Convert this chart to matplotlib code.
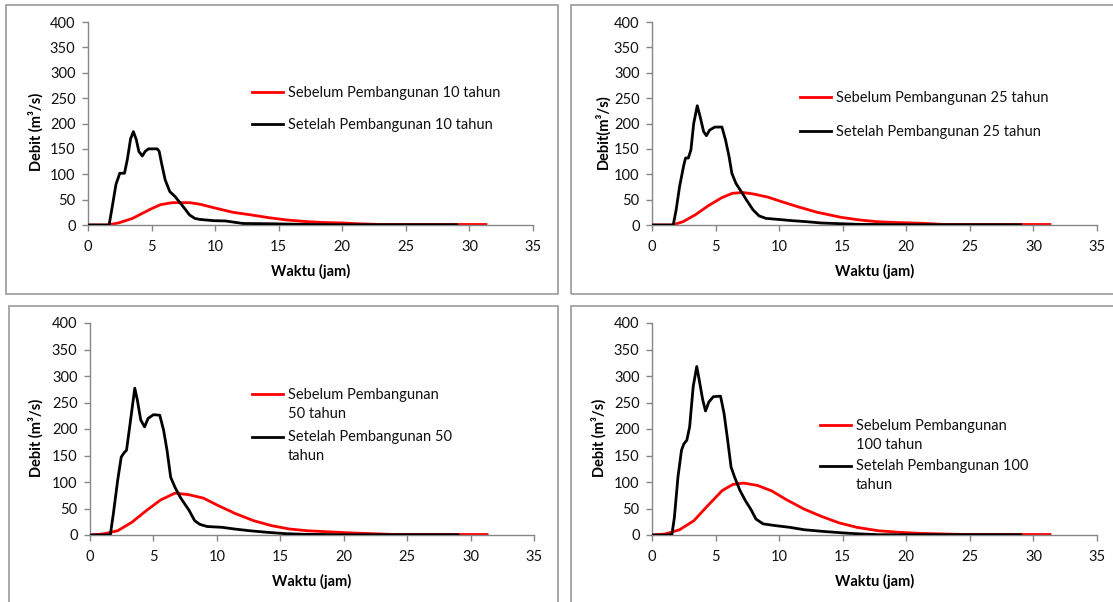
import numpy as np
import matplotlib
matplotlib.use("Agg")
import matplotlib.pyplot as plt
from matplotlib.patches import Rectangle
from matplotlib.legend_handler import HandlerLine2D

plt.rcParams['font.family'] = ['Lato', 'DejaVu Sans']

# ---------------- data ----------------
# 10 tahun
t_sebelum_10 = [0, 1.5, 2.4, 3.5, 4.9, 5.7, 6.6, 8.0, 8.8, 9.9, 11.4, 12.8, 14.2, 15.6, 17.0, 18.4, 20.0, 21.2, 23.0, 31.3]
q_sebelum_10 = [0, 0, 4, 13, 31, 40, 44, 44, 41, 34, 25, 20, 14.5, 10, 7, 5, 4, 2.5, 1, 1]
t_setelah_10 = [0, 1.66, 1.9, 2.2, 2.5, 2.87, 3.1, 3.35, 3.57, 3.8, 4.0, 4.27, 4.5, 4.75, 5.1, 5.45, 5.6, 5.8, 6.07, 6.43, 6.85, 7.4, 7.98, 8.4, 8.8, 9.9, 10.8, 12.2, 14.2, 17.5, 20, 29]
q_setelah_10 = [0, 0, 35, 80, 102, 102, 130, 170, 184, 168, 145, 136, 145, 150, 150, 150, 145, 120, 89, 66, 56, 39, 20, 13, 11, 8.5, 8, 3, 2.5, 1, 0.5, 0.5]

# 25 tahun
t_sebelum_25 = [0, 1.6, 2.44, 3.4, 4.4, 5.5, 6.33, 7.17, 8.0, 9.1, 10.2, 11.6, 13.0, 14.9, 16.3, 17.7, 19.1, 21.3, 23.0, 31.3]
q_sebelum_25 = [0, 0, 6.5, 20, 37.5, 54, 62.5, 64, 61, 55, 46, 35, 25, 15, 10, 6.5, 5, 3.3, 1, 1]
t_setelah_25 = [0, 1.67, 1.9, 2.17, 2.5, 2.64, 2.86, 3.06, 3.28, 3.56, 3.78, 4.06, 4.28, 4.53, 4.94, 5.5, 5.78, 6.06, 6.28, 6.6, 6.94, 7.44, 7.94, 8.42, 8.97, 9.94, 11.05, 12.17, 13.3, 14.9, 16.3, 20, 29]
q_setelah_25 = [0, 0, 30, 76, 118, 132, 132, 148, 200, 235, 214, 184, 176, 187, 193, 193, 168, 135, 102, 82, 69, 49, 30, 18, 13, 11, 8.5, 6.5, 4, 2.5, 1.3, 0.5, 0.5]

# 50 tahun
t_sebelum_50 = [0, 1.05, 2.18, 3.3, 4.44, 5.56, 6.7, 7.8, 8.95, 10.1, 11.5, 12.9, 14.3, 15.7, 17.15, 18.8, 20.5, 22.2, 24.0, 31.3]
q_sebelum_50 = [0, 2, 8, 24, 46, 66, 79, 76, 69.5, 55.6, 40, 27, 17.7, 11.4, 8, 6, 4, 2.5, 1, 1]
t_setelah_50 = [0, 1.6, 1.84, 2.18, 2.46, 2.68, 2.88, 3.16, 3.53, 3.73, 4.0, 4.3, 4.58, 5.0, 5.5, 5.8, 6.07, 6.36, 6.7, 7.12, 7.54, 7.8, 8.25, 8.67, 9.24, 10.4, 11.5, 12.6, 14.0, 15.45, 16.9, 20, 29]
q_setelah_50 = [0, 0, 40, 103, 147, 155, 160, 210, 277, 255, 217, 204, 220, 227, 226, 198, 160, 109, 90, 71, 56, 47, 27, 20, 16, 14.5, 11, 8, 5, 2.5, 1.3, 0.5, 0.5]

# 100 tahun
t_sebelum_100 = [0, 1.06, 2.18, 3.29, 4.41, 5.53, 6.36, 7.2, 8.3, 9.43, 10.55, 11.95, 13.34, 14.7, 16.1, 17.8, 19.5, 21.15, 22.8, 24.5, 31.3]
q_sebelum_100 = [0, 2, 10, 27, 56, 84, 95.4, 98, 93.5, 83, 67, 49, 35, 23, 14.5, 8, 5, 3, 2, 1, 1]
t_setelah_100 = [0, 1.56, 1.76, 2.04, 2.32, 2.51, 2.74, 2.96, 3.24, 3.52, 3.71, 3.99, 4.21, 4.47, 4.83, 5.39, 5.67, 5.95, 6.22, 6.5, 6.92, 7.34, 7.76, 8.18, 8.74, 9.71, 10.83, 11.95, 13.34, 15.0, 16.4, 17.8, 29]
q_setelah_100 = [0, 0, 33, 109, 160, 172, 179, 204, 280, 318, 293, 255, 234, 251, 261, 262, 229, 179, 128, 109, 84, 65, 49, 30, 21, 17.7, 14.5, 10, 7, 4, 2, 0.6, 0.5]

periods = ["10", "25", "50", "100"]
x_ticks = [0, 5, 10, 15, 20, 25, 30, 35]
y_ticks = [0, 50, 100, 150, 200, 250, 300, 350, 400]

label_sebelum = ["Sebelum Pembangunan 10 tahun", "Sebelum Pembangunan 25 tahun",
                 "Sebelum Pembangunan\n50 tahun", "Sebelum Pembangunan\n100 tahun"]
label_setelah = ["Setelah Pembangunan 10 tahun", "Setelah Pembangunan 25 tahun",
                 "Setelah Pembangunan 50\ntahun", "Setelah Pembangunan 100\ntahun"]
y_labels = ["Debit (m\u00b3/s)", "Debit(m\u00b3/s)", "Debit (m\u00b3/s)", "Debit (m\u00b3/s)"]

sebelum = [(t_sebelum_10, q_sebelum_10), (t_sebelum_25, q_sebelum_25),
           (t_sebelum_50, q_sebelum_50), (t_sebelum_100, q_sebelum_100)]
setelah = [(t_setelah_10, q_setelah_10), (t_setelah_25, q_setelah_25),
           (t_setelah_50, q_setelah_50), (t_setelah_100, q_setelah_100)]

# ---------------- layout (pixels) ----------------
W, H = 1113, 602
fig = plt.figure(figsize=(W / 100, H / 100), dpi=100)


def fr(x0, y0, x1, y1):
    return [x0 / W, 1 - y1 / H, (x1 - x0) / W, (y1 - y0) / H]


axes_px = [(88, 22, 533, 225), (652, 22, 1097, 225), (90, 323, 534, 535), (652, 323, 1097, 535)]
boxes_px = [(6, 5, 558, 294), (571, 5, 1125, 294), (9, 306, 558, 620), (571, 306, 1125, 620)]
# legend anchor (handle left x, top y) in pixels
legend_px = [(252, 86), (800, 91), (252, 388), (820, 419)]
legend_spacing = [1.25, 1.4, 0.65, 0.5]
ylabel_x = [44, 610, 44, 607]

for bx in boxes_px:
    fig.patches.append(Rectangle((bx[0] / W, 1 - bx[3] / H), (bx[2] - bx[0]) / W, (bx[3] - bx[1]) / H,
                                 transform=fig.transFigure, fill=False, edgecolor='#9a9a9a', linewidth=1.2))


class FirstLineHandler(HandlerLine2D):
    def __init__(self, shift=0.0, **kw):
        super().__init__(**kw)
        self.shift = shift

    def create_artists(self, legend, orig_handle, xdescent, ydescent, width, height, fontsize, trans):
        arts = super().create_artists(legend, orig_handle, xdescent, ydescent, width, height, fontsize, trans)
        for a in arts:
            a.set_ydata(np.asarray(a.get_ydata()) + self.shift * fontsize)
        return arts


axis_color = '#868686'
for i in range(4):
    ax = fig.add_axes(fr(*axes_px[i]))
    ts, qs = sebelum[i]
    ta, qa = setelah[i]
    l1, = ax.plot(ts, qs, color='#ff0000', lw=2.0, label=label_sebelum[i], zorder=2)
    l2, = ax.plot(ta, qa, color='black', lw=2.0, label=label_setelah[i], zorder=3)
    ax.set_xlim(0, 35)
    ax.set_ylim(0, 400)
    ax.set_xticks(x_ticks)
    ax.set_yticks(y_ticks)
    for s in ['top', 'right']:
        ax.spines[s].set_visible(False)
    for s in ['left', 'bottom']:
        ax.spines[s].set_color(axis_color)
        ax.spines[s].set_linewidth(1.0)
    ax.tick_params(axis='both', direction='out', length=4, width=1.0, color=axis_color,
                   labelsize=10.5, labelcolor='#111111')
    ax.tick_params(axis='y', pad=5)
    ax.tick_params(axis='x', pad=7)
    ax.set_xlabel("Waktu (jam)", fontsize=10.5, fontweight='bold', labelpad=7)
    ax.set_ylabel(y_labels[i], fontsize=10.5, fontweight='bold')
    ax.yaxis.set_label_coords((ylabel_x[i] - axes_px[i][0]) / (axes_px[i][2] - axes_px[i][0]), 0.46,
                              transform=ax.transAxes)
    ax.set_facecolor('none')

    hx, hy = legend_px[i]
    multi = "\n" in label_sebelum[i]
    shift = 0.72 if multi else 0.0
    leg = ax.legend(handles=[l1, l2], loc='upper left',
                    bbox_to_anchor=(hx / W, 1 - hy / H), bbox_transform=fig.transFigure,
                    frameon=False, fontsize=10.5, handlelength=2.15, handletextpad=0.3,
                    borderpad=0, borderaxespad=0, labelspacing=legend_spacing[i],
                    handler_map={l1: FirstLineHandler(shift), l2: FirstLineHandler(shift)})
    for txt in leg.get_texts():
        txt.set_color('#111111')
        if multi:
            txt.set_linespacing(1.45)

fig.savefig("out.png", dpi=100)
